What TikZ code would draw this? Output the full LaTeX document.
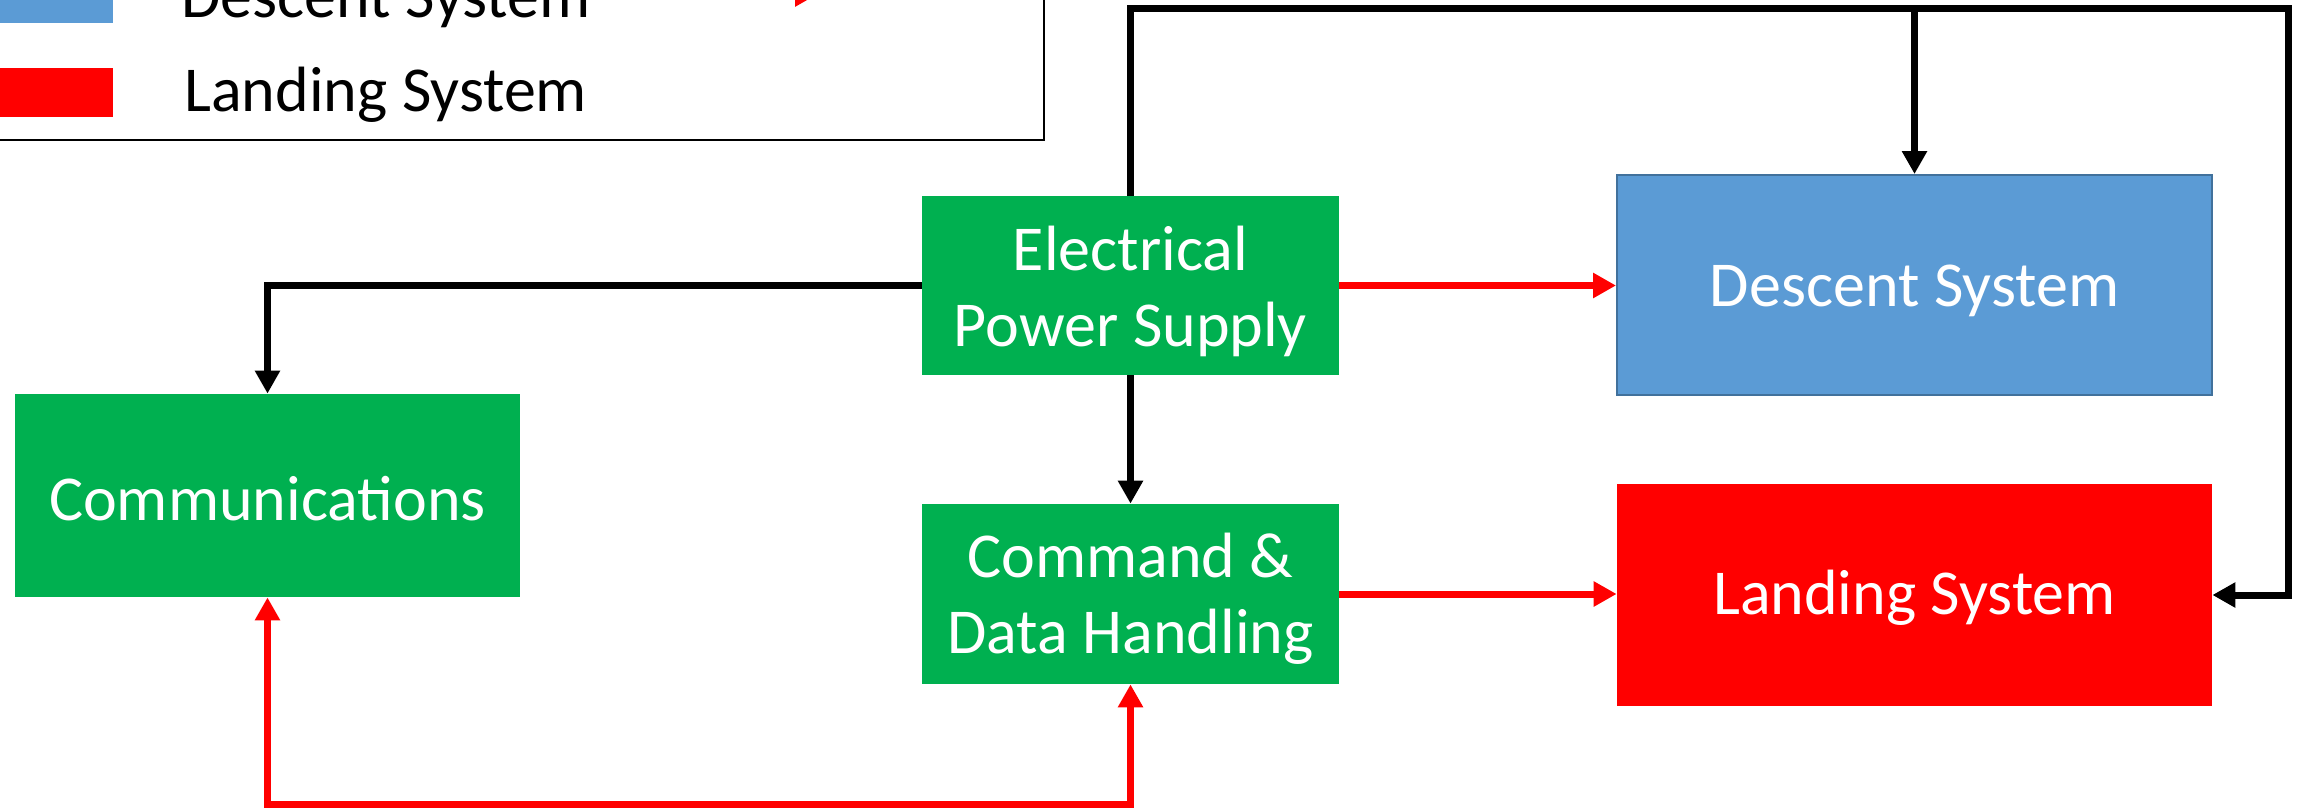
\documentclass[tikz,border=0pt]{standalone}
\usepackage{fontspec}
\setmainfont{Carlito}
\usetikzlibrary{arrows.meta}
\definecolor{grn}{HTML}{00B050}
\definecolor{dblue}{HTML}{5B9BD5}
\definecolor{dblueborder}{HTML}{41719C}
\definecolor{lred}{HTML}{FF0000}
\begin{document}
\begin{tikzpicture}[x=0.5pt,y=-0.5pt,
  box/.style={rectangle, inner sep=0pt},
  greenbox/.style={box, fill=grn, minimum width=208.5pt},
  txt/.style={inner sep=0pt, text=white, font=\fontsize{32}{38}\selectfont, align=center},
  conn/.style={line width=3.5pt, -{Triangle[length=11.5pt,width=12pt]}},
  lgdtext/.style={anchor=base west, font=\fontsize{32}{38}\selectfont, inner sep=0pt},
]
\useasboundingbox (0,0) rectangle (2305,808);

% legend
\draw[line width=1.2pt] (-20,-60) rectangle (1044,140);
\fill[dblue] (0,-26) rectangle (113,23);
\fill[lred] (0,68) rectangle (113,117);
\node[lgdtext] (lgdd) at (181,18) {Descent System};
\node[lgdtext] (lgdl) at (184,112) {Landing System};
\coordinate (la1) at (680,-6);
\coordinate (la2) at (818,-6);
\draw[conn, lred] (la1) -- (la2);

% blocks
\node[greenbox, minimum height=89.5pt] (eps) at (1130.5,285.5) {};
\node[greenbox, minimum height=90pt] (cdh) at (1130.5,594) {};
\node[box, fill=grn, minimum width=252.5pt, minimum height=101.5pt] (comm) at (267.5,495.5) {};
\node[box, fill=dblue, draw=dblueborder, line width=1pt, minimum width=297.5pt, minimum height=110pt] (desc) at (1914.5,285) {};
\node[box, fill=lred, minimum width=297.5pt, minimum height=111pt] (land) at (1914.5,595) {};

\node[txt] (epst) at ([yshift=-3pt]eps.center) {Electrical\\Power Supply};
\node[txt] (cdht) at ([yshift=-2.5pt]cdh.center) {Command \&\\Data Handling};
\node[txt] (commt) at ([yshift=-1.5pt]comm.center) {Communications};
\node[txt] (desct) at ([yshift=-3pt]desc.center) {Descent System};
\node[txt] (landt) at ([yshift=-1.5pt]land.center) {Landing System};

% connectors
\coordinate (tr) at (2288,9);
\coordinate (bot) at (0,804);
\draw[conn] (eps.west) -| (comm.north);
\draw[conn, lred] (eps.east) -- (eps.east -| desc.west);
\draw[conn] (eps.north) |- (tr) |- (land.east);
\draw[conn] (desc.north |- tr) -- (desc.north);
\draw[conn] (eps.south) -- (cdh.north);
\draw[conn, lred] (cdh.east) -- (cdh.east -| land.west);
\draw[line width=3.5pt, lred, {Triangle[length=11.5pt,width=12pt]}-{Triangle[length=11.5pt,width=12pt]}]
  (comm.south) -- (comm.south |- bot) -| (cdh.south);
\end{tikzpicture}
\end{document}
